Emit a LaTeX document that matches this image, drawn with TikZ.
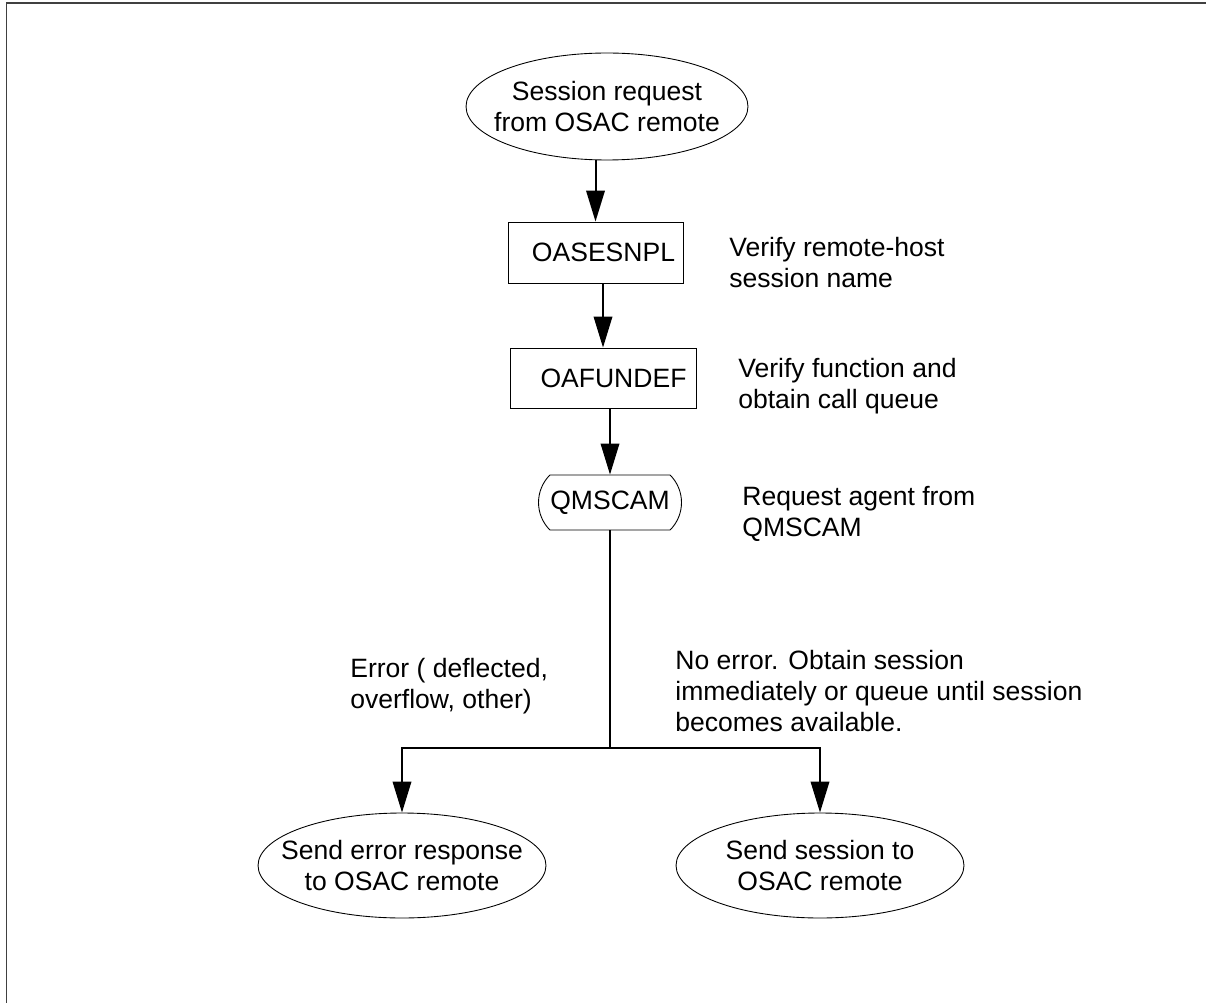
\documentclass[tikz,border=0pt]{standalone}
\usepackage{fontspec}
\setmainfont{Liberation Sans}
\usepackage{tikz}
\usetikzlibrary{positioning,arrows.meta,shapes.geometric,shapes.misc,calc}
\tikzset{
  term/.style={draw, ellipse, line width=0.5pt, align=center, inner ysep=0pt, inner xsep=-0.55cm, minimum width=5.76cm, minimum height=2.1cm},
  box/.style={draw, rectangle, line width=0.5pt, align=center, inner sep=0pt},
  queue/.style={draw, rounded rectangle, rounded rectangle arc length=90, line width=0.5pt, inner sep=0pt},
  note/.style={anchor=north west, align=left, inner sep=0pt},
  flow/.style={-{Triangle[length=0.62cm, width=0.37cm]}, line width=0.04cm},
  link/.style={line width=0.04cm},
}

\begin{document}
\begin{tikzpicture}[x=0.02cm, y=-0.02cm, font=\fontsize{15.1}{17.8}\selectfont]
  \useasboundingbox (0,0) rectangle (1206,1003);
  \draw[line width=0.04cm, black!75] (1206,3.5) -- (6.5,3.5) -- (6.5,1003);
  % flow of the session request
  \node[term, minimum width=5.64cm, minimum height=2.14cm] (ses) at (607,106.5) {Session request\\from OSAC remote};
  \node[box, minimum width=3.5cm, minimum height=1.22cm] (osn) at (595.5,252.5) {\hspace{0.32cm}OASESNPL};
  \node[box, minimum width=3.72cm, minimum height=1.2cm] (ofd) at (603,378) {\hspace{0.42cm}OAFUNDEF};
  \node[queue, minimum width=2.86cm, minimum height=1.1cm] (qms) at (610,502.5) {QMSCAM};
  \node[term] (err) at (402,865.5) {Send error response\\to OSAC remote};
  \node[term] (snd) at (820,865.5) {Send session to\\OSAC remote};
  \coordinate (split) at (610,747.7);
  % side notes
  \node[note] (vrfhost) at (729,236.5) {Verify remote-host\\session name};
  \node[note] (vrffun) at (738,357.5) {Verify function and\\obtain call queue};
  \node[note] (reqagt) at (742,485.5) {Request agent from\\QMSCAM};
  \node[note] (errlbl) at (350,657.5) {Error ( deflected,\\overflow, other)};
  \node[note] (oklbl) at (675,649.5) {No error. Obtain session\\immediately or queue until session\\becomes available.};
  \draw[flow] (osn.north |- ses.south) -- (osn.north);
  \draw[flow] (osn.south -| ofd.north) -- (ofd.north);
  \draw[flow] (ofd.south -| qms.north) -- (qms.north);
  \draw[link] (qms.south) -- (split);
  \draw[flow] (split) -| (err.north);
  \draw[flow] (split) -| (snd.north);
\end{tikzpicture}
\end{document}
